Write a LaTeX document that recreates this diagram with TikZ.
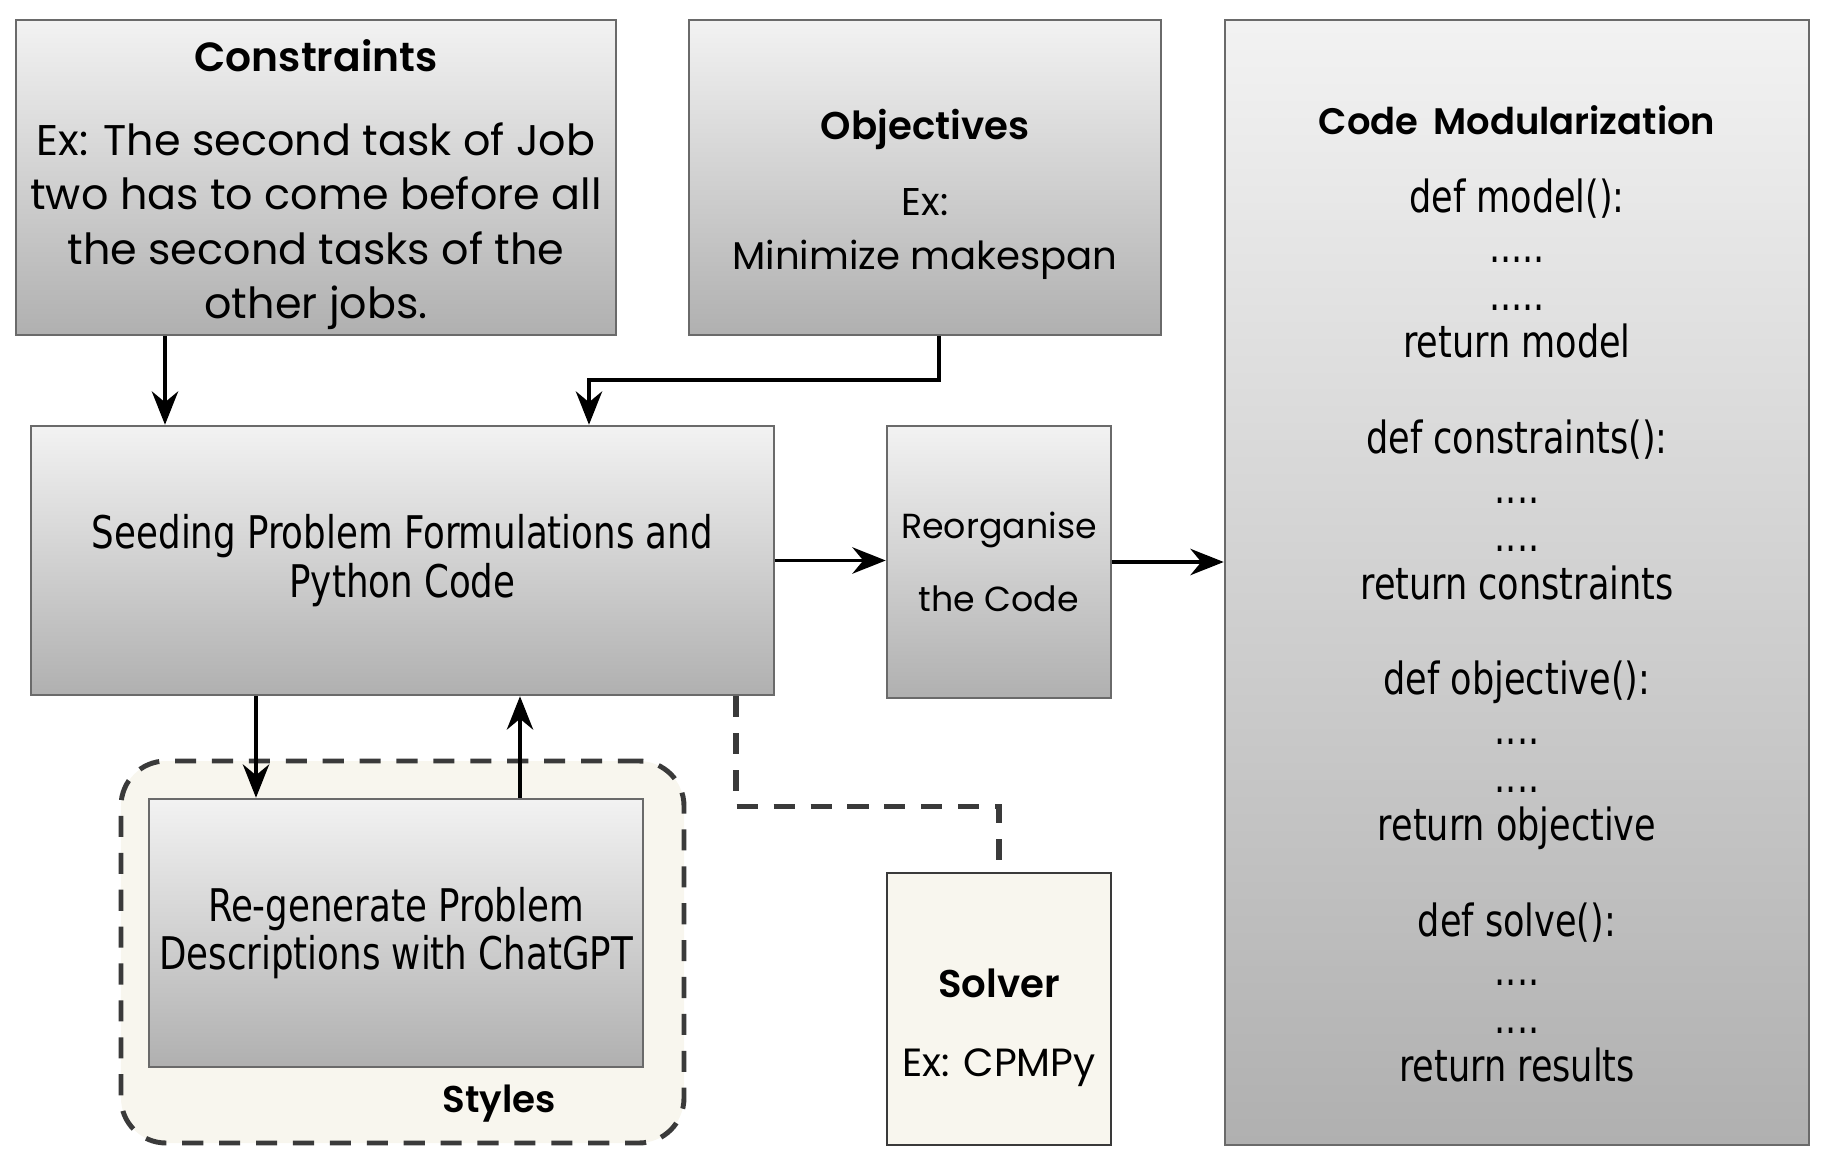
\documentclass[tikz,border=0pt]{standalone}
\usepackage{fontspec}
\setmainfont{DejaVu Sans Condensed}
\newfontfamily\comicfont{Poppins}
\newfontfamily\headfont{Poppins SemiBold}
\newfontfamily\codefont[FakeStretch=0.88]{DejaVu Sans Condensed}
\usepackage{tikz}
\usetikzlibrary{arrows.meta,positioning}
\definecolor{cream}{HTML}{F8F6EE}
\definecolor{edge}{HTML}{6A6A6A}
\definecolor{dash}{HTML}{3A3A3A}

\begin{document}
\begin{tikzpicture}[
    block/.style={draw=edge, line width=0.7pt, top color=black!5, bottom color=black!31, inner sep=0pt, align=center},
    plain/.style={draw=dash, line width=0.8pt, fill=cream, inner sep=0pt, align=center},
    comic/.style={font=\comicfont\fontsize{12.2}{15.4}\selectfont},
    code/.style={font=\codefont\fontsize{12.8}{13.8}\selectfont},
    arr/.style={-{Stealth[length=9.5pt, width=7.5pt]}, line width=1pt},
    darr/.style={draw=dash, line width=1.5pt, dash pattern=on 6pt off 4.5pt},
]
    \useasboundingbox (0,0) rectangle (18.23,-11.69);

    % Row 1: inputs
    \node [block, minimum width=6.00cm, minimum height=3.15cm] (cons) at (3.16,-1.775) {};
    \node [comic, align=center] (constxt) at ([yshift=-0.07cm]cons.center)
        {{\headfont\fontsize{11.6}{14}\selectfont Constraints}\\[0.3cm]Ex: The second task of Job\\two has to come before all\\the second tasks of the\\other jobs.};
    \node [block, minimum width=4.72cm, minimum height=3.15cm] (obj) at (9.25,-1.775) {};
    \node [comic, align=center, font=\comicfont\fontsize{11}{15.4}\selectfont] (objtxt) at ([yshift=-0.17cm]obj.center)
        {{\headfont Objectives}\\[0.22cm]Ex:\\Minimize makespan};

    % Right column
    \node [block, minimum width=5.84cm, minimum height=11.25cm] (modul) at (15.17,-5.825) {};
    \node [code, align=center, font=\codefont\fontsize{12.6}{13.6}\selectfont] (modtxt) at (15.17,-5.94)
        {{\headfont\fontsize{10.5}{12}\selectfont Code\, Modularization}\\[0.3cm]
         def model():\\[0.02cm].....\\.....\\return model\\[0.48cm]
         def constraints():\\[0.02cm]....\\....\\return constraints\\[0.48cm]
         def objective():\\[0.02cm]....\\....\\return objective\\[0.48cm]
         def solve():\\[0.02cm]....\\....\\return results};

    % Row 2: processing
    \node [block, code, minimum width=7.43cm, minimum height=2.69cm] (seed) at (4.025,-5.605)
        {Seeding Problem Formulations and\\Python Code};
    \node [block, minimum width=2.24cm, minimum height=2.72cm, font=\comicfont\fontsize{9.9}{21}\selectfont] (reorg) at (9.99,-5.62)
        {Reorganise\\the Code};

    % Row 3: styles and solver
    \node [plain, line width=1.4pt, dash pattern=on 6pt off 4.5pt, rounded corners=0.45cm, minimum width=5.63cm, minimum height=3.82cm] (styles) at (4.025,-9.52) {};
    \node [block, code, minimum width=4.94cm, minimum height=2.68cm] (regen) at (3.96,-9.33)
        {Re-generate Problem\\Descriptions with ChatGPT};
    \node [font=\headfont\fontsize{10.6}{12}\selectfont] (stylelbl) at ([xshift=0.965cm, yshift=0.42cm]styles.south) {Styles};
    \node [plain, minimum width=2.24cm, minimum height=2.72cm] (solver) at (9.99,-10.09) {};
    \node [align=center, font=\comicfont\fontsize{11.2}{22.5}\selectfont] (soltxt) at ([yshift=-0.19cm]solver.center)
        {{\headfont\fontsize{11}{12}\selectfont Solver}\\Ex: CPMPy};

    % Arrows
    \draw [arr] ([xshift=-1.51cm]cons.south) -- ([xshift=-2.375cm]seed.north);
    \draw [arr] ([xshift=0.14cm]obj.south) -- ++(0,-0.44) -| ([xshift=1.865cm]seed.north);
    \draw [arr] (seed.east) -- (seed.east -| reorg.west);
    \draw [arr] (reorg.east) -- (reorg.east -| modul.west);
    \draw [arr] ([xshift=-1.465cm]seed.south) -- ([xshift=-1.40cm]regen.north);
    \draw [arr] ([xshift=1.24cm]regen.north) -- ([xshift=1.175cm]seed.south);

    % Solver link
    \draw [darr] ([xshift=3.335cm]seed.south) -- ++(0,-1.10) -| (solver.north);
\end{tikzpicture}
\end{document}
